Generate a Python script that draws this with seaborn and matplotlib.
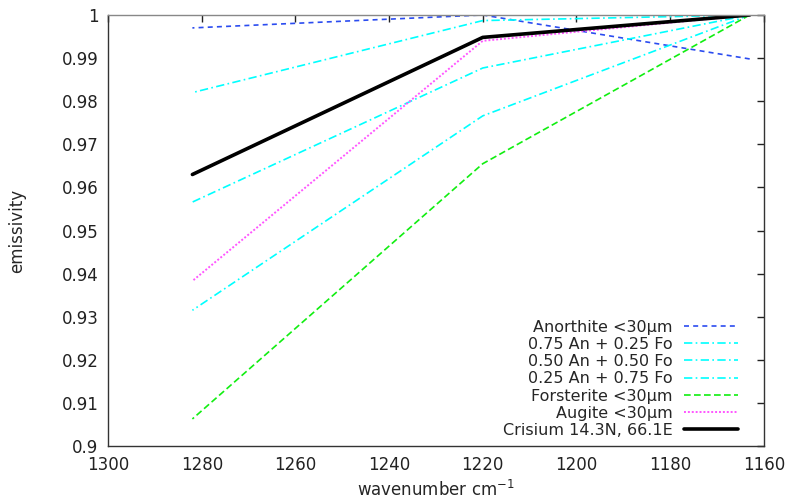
import matplotlib
matplotlib.use("Agg")
import matplotlib.pyplot as plt
import pandas as pd
import seaborn as sns
from matplotlib.ticker import FormatStrFormatter, MultipleLocator

# wavenumbers (cm^-1) of the three bands
WAVENUMBER = [1282, 1220, 1163]

ANORTHITE = [0.997, 1.000, 0.9898]
AN75_FO25 = [0.982, 0.9987, 1.000]
AN50_FO50 = [0.9566, 0.9877, 1.000]
AN25_FO75 = [0.9315, 0.9766, 1.000]
FORSTERITE = [0.9063, 0.9655, 1.000]
AUGITE = [0.9383, 0.9940, 1.000]
CRISIUM = [0.963, 0.9948, 1.000]

LABELS = [
    "Anorthite <30µm",
    "0.75 An + 0.25 Fo",
    "0.50 An + 0.50 Fo",
    "0.25 An + 0.75 Fo",
    "Forsterite <30µm",
    "Augite <30µm",
    "Crisium 14.3N, 66.1E",
]
SERIES = [ANORTHITE, AN75_FO25, AN50_FO50, AN25_FO75, FORSTERITE, AUGITE, CRISIUM]

STYLES = [
    dict(color="#2b4cf0", dashes=(3, 2.5), lw=1.2),
    dict(color="#00ffff", dashes=(5, 2, 1, 2), lw=1.2),
    dict(color="#00ffff", dashes=(5, 2, 1, 2), lw=1.2),
    dict(color="#00ffff", dashes=(5, 2, 1, 2), lw=1.2),
    dict(color="#11ee11", dashes=(4, 2), lw=1.2),
    dict(color="#ff55ff", dashes=(1, 1), lw=1.4),
    dict(color="black", dashes=None, lw=2.6),
]

sns.set_theme(style="white")
plt.rcParams["font.family"] = ["DejaVu Sans"]

fig = plt.figure(figsize=(7.89, 4.99), dpi=100)
ax = fig.add_axes([0.137, 0.106, 0.831, 0.864])

for label, vals, st in zip(LABELS, SERIES, STYLES):
    df = pd.DataFrame({"x": WAVENUMBER, "y": vals})
    sns.lineplot(data=df, x="x", y="y", ax=ax, color=st["color"],
                 linewidth=st["lw"], label=label)
    if st["dashes"] is not None:
        ax.lines[-1].set_dashes(st["dashes"])

ax.set_xlim(1300, 1160)
ax.set_ylim(0.9, 1.0)
ax.xaxis.set_major_locator(MultipleLocator(20))
ax.yaxis.set_major_locator(MultipleLocator(0.01))
ax.yaxis.set_major_formatter(FormatStrFormatter("%g"))
ax.tick_params(direction="in", length=5, width=1, top=True, right=True,
               labelsize=12, colors="#222222", pad=7)
for sp in ax.spines.values():
    sp.set_color("#333333")
    sp.set_linewidth(1.0)
ax.spines["top"].set_color("#888888")

ax.set_xlabel("wavenumber cm$^{-1}$", fontsize=12)
ax.set_ylabel("emissivity", fontsize=12)
ax.xaxis.set_label_coords(0.5, -0.078)
ax.yaxis.set_label_coords(-0.125, 0.5)

ax.legend(loc="lower right", bbox_to_anchor=(0.9706, 0.004), frameon=False,
          markerfirst=False, fontsize=11.5, handlelength=3.4,
          labelspacing=0.14, borderaxespad=0, handletextpad=0.68)

fig.savefig("out.png", dpi=100)
